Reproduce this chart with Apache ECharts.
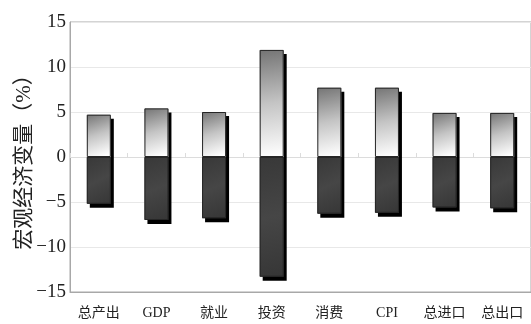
<!DOCTYPE html>
<html>
<head>
<meta charset="utf-8">
<script src="https://cdn.jsdelivr.net/npm/echarts@6/dist/echarts.min.js"></script>
<style>
html,body{margin:0;padding:0;background:#fff;}
#chart{width:531px;height:324px;}
</style>
</head>
<body>
<div id="chart"></div>
<script>
// Macro variables and their upper / lower response (%)
const categories = ['总产出', 'GDP', '就业', '投资', '消费', 'CPI', '总进口', '总出口'];
const upperValues = [4.7, 5.4, 5.0, 11.9, 7.7, 7.7, 4.9, 4.9];
const lowerValues = [-5.2, -7.0, -6.8, -13.3, -6.3, -6.2, -5.6, -5.7];
const yTicks = [-15, -10, -5, 0, 5, 10, 15];

const serif = "'Liberation Serif', 'Noto Sans CJK SC', serif";
const chart = echarts.init(document.getElementById('chart'));

// filled bodies carry the drop shadow; thin outlines are drawn on top without it
const shadow = { shadowColor: '#000', shadowBlur: 0, shadowOffsetX: 3, shadowOffsetY: 4 };
const outline = { color: 'rgba(0,0,0,0)', borderColor: '#262626', borderWidth: 1 };

chart.setOption({
  animation: false,
  grid: { left: 70, right: -3, top: 22, bottom: 32, show: true, borderColor: '#a8a8a8', borderWidth: 1 },
  xAxis: [
    {
      type: 'category', data: categories, position: 'bottom',
      axisLine: { onZero: false, lineStyle: { color: '#a8a8a8' } },
      axisTick: { show: false },
      axisLabel: { color: '#222', fontFamily: serif, fontSize: 14, margin: 14 }
    },
    {
      type: 'category', data: categories, position: 'bottom',
      axisLine: { onZero: true, lineStyle: { color: '#dcdcdc' } },
      axisTick: { show: true, inside: true, length: 4, lineStyle: { color: '#dcdcdc' } },
      axisLabel: { show: false }
    }
  ],
  yAxis: {
    type: 'value', min: yTicks[0], max: yTicks[yTicks.length - 1], interval: 5,
    name: '宏观经济变量（%）', nameLocation: 'middle', nameGap: 35, nameMoveOverlap: false,
    nameTextStyle: { color: '#222', fontFamily: serif, fontSize: 21 },
    axisLine: { show: true, lineStyle: { color: '#a8a8a8' } },
    axisTick: { show: false },
    axisLabel: {
      color: '#222', fontFamily: serif, fontSize: 19, margin: 4,
      formatter: v => String(v).replace('-', '\u2212')
    },
    splitLine: { lineStyle: { color: '#e8e8e8' } }
  },
  series: [
    {
      type: 'bar', stack: 'body', barWidth: 24, barGap: '-100%', data: upperValues,
      itemStyle: Object.assign({
        color: new echarts.graphic.LinearGradient(0, 0, 0.6, 1, [
          { offset: 0, color: '#747474' },
          { offset: 0.5, color: '#c4c4c4' },
          { offset: 1, color: '#ffffff' }
        ])
      }, shadow)
    },
    {
      type: 'bar', stack: 'body', barWidth: 24, barGap: '-100%', data: lowerValues,
      itemStyle: Object.assign({
        color: new echarts.graphic.LinearGradient(0, 0, 1, 1, [
          { offset: 0, color: '#383838' },
          { offset: 0.5, color: '#464646' },
          { offset: 1, color: '#363636' }
        ])
      }, shadow)
    },
    {
      type: 'bar', stack: 'edge', barWidth: 24, barGap: '-100%', data: upperValues,
      itemStyle: outline, silent: true
    },
    {
      type: 'bar', stack: 'edge', barWidth: 24, barGap: '-100%', data: lowerValues,
      itemStyle: outline, silent: true
    }
  ]
});
</script>
</body>
</html>
